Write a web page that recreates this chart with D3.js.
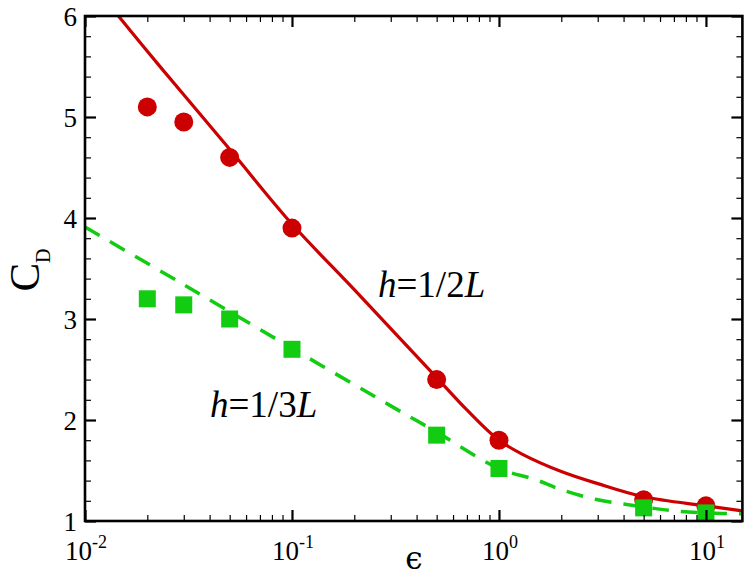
<!DOCTYPE html>
<html>
<head>
<meta charset="utf-8">
<script src="https://cdn.jsdelivr.net/npm/d3@7"></script>
<style>
  html, body { margin: 0; padding: 0; background: #fff; }
  svg { display: block; }
</style>
</head>
<body>
<svg id="chart" width="750" height="578"></svg>
<script>
// ---- data ----
const epsPoints = [0.02, 0.03, 0.05, 0.1, 0.5, 1, 5, 10];
const cdHalf = [5.1, 4.95, 4.6, 3.9, 2.4, 1.8, 1.21, 1.15];
const cdThird = [3.2, 3.14, 3.0, 2.7, 1.85, 1.52, 1.13, 1.08];

const curveHalfX = [0.013, 0.02, 0.03, 0.05, 0.1, 0.2, 0.5, 0.7, 1.0, 1.3, 2, 3, 5, 10, 15];
const curveHalfY = [6.12, 5.65, 5.22, 4.68, 3.94, 3.29, 2.42, 2.10, 1.80, 1.66, 1.49, 1.37, 1.24, 1.15, 1.10];

const curveThirdX = [0.01, 0.03, 0.1, 0.3, 0.5, 1.0, 1.5, 2, 3, 5, 7, 10, 15];
const curveThirdY = [3.91, 3.34, 2.71, 2.14, 1.88, 1.52, 1.41, 1.31, 1.21, 1.14, 1.10, 1.08, 1.07];

const xMajor = [0.01, 0.1, 1, 10];
const xMajorExp = ["-2", "-1", "0", "1"];
const yMajor = [1, 2, 3, 4, 5, 6];

const colRed = "#cc0000";
const colGreen = "#11cc11";

// ---- layout ----
const L = 85, R = 742.4, T = 16, B = 521;
const svg = d3.select("#chart");
const x = d3.scaleLog().domain([0.01, 15]).range([L, R]);
const y = d3.scaleLinear().domain([1, 6]).range([B, T]);

// minor ticks
const xMinor = [];
for (let e = -2; e <= 1; e++) {
  for (let m = 2; m <= 9; m++) {
    const v = m * Math.pow(10, e);
    if (v <= 15) xMinor.push(v);
  }
}
const yMinor = d3.range(1, 6.001, 0.2).filter(v => Math.abs(v - Math.round(v)) > 1e-6);

// clip
svg.append("defs").append("clipPath").attr("id", "clip")
  .append("rect").attr("x", L).attr("y", T).attr("width", R - L).attr("height", B - T);

const gPlot = svg.append("g").attr("clip-path", "url(#clip)");

const line = d3.line().x(d => x(d[0])).y(d => y(d[1])).curve(d3.curveCatmullRom.alpha(0.5));

gPlot.append("path")
  .datum(curveHalfX.map((v, i) => [v, curveHalfY[i]]))
  .attr("d", line).attr("fill", "none").attr("stroke", colRed).attr("stroke-width", 3.2);

// red circles
svg.append("g").selectAll("circle").data(epsPoints.map((v, i) => [v, cdHalf[i]])).join("circle")
  .attr("cx", d => x(d[0])).attr("cy", d => y(d[1])).attr("r", 9.5).attr("fill", colRed);

gPlot.append("path")
  .datum(curveThirdX.map((v, i) => [v, curveThirdY[i]]))
  .attr("d", line).attr("fill", "none").attr("stroke", colGreen).attr("stroke-width", 3.5)
  .attr("stroke-dasharray", "17,12");

// green squares
const sq = 17;
svg.append("g").selectAll("rect").data(epsPoints.map((v, i) => [v, cdThird[i]])).join("rect")
  .attr("x", d => x(d[0]) - sq / 2).attr("y", d => y(d[1]) - sq / 2)
  .attr("width", sq).attr("height", sq).attr("fill", colGreen);

// axes ticks (inward, all four sides)
function tickAxis(gen, tx, ty, values, size, width) {
  const g = svg.append("g").attr("transform", `translate(${tx},${ty})`)
    .call(gen.tickValues(values).tickSize(size).tickFormat(""));
  g.select(".domain").remove();
  g.selectAll(".tick line").attr("stroke", "#000").attr("stroke-width", width);
}
tickAxis(d3.axisBottom(x), 0, B, xMajor, -11, 2.2);
tickAxis(d3.axisBottom(x), 0, B, xMinor, -6, 1.2);
tickAxis(d3.axisTop(x), 0, T, xMajor, -11, 2.2);
tickAxis(d3.axisTop(x), 0, T, xMinor, -6, 1.2);
tickAxis(d3.axisLeft(y), L, 0, yMajor, -11, 2.2);
tickAxis(d3.axisLeft(y), L, 0, yMinor, -6, 1.2);
tickAxis(d3.axisRight(y), R, 0, yMajor, -11, 2.2);
tickAxis(d3.axisRight(y), R, 0, yMinor, -6, 1.2);

// frame
svg.append("rect").attr("x", L).attr("y", T).attr("width", R - L).attr("height", B - T)
  .attr("fill", "none").attr("stroke", "#000").attr("stroke-width", 2.6);

const serif = "'Liberation Serif', 'Times New Roman', Times, serif";

// y tick labels
svg.append("g").selectAll("text").data(yMajor).join("text")
  .attr("x", L - 8).attr("y", d => y(d) + 10)
  .attr("text-anchor", "end").attr("font-family", serif).attr("font-size", 27)
  .text(d => d);

// x tick labels
const xl = svg.append("g").selectAll("text").data(xMajor).join("text")
  .attr("x", d => x(d) + 1).attr("y", 560)
  .attr("text-anchor", "middle").attr("font-family", serif).attr("font-size", 27);
xl.append("tspan").text("10");
xl.append("tspan").attr("dy", -12).attr("font-size", 18).text((d, i) => xMajorExp[i]);

// axis titles
const yt = svg.append("text").attr("transform", "translate(39,270) rotate(-90)")
  .attr("text-anchor", "middle").attr("font-family", serif).attr("font-size", 43);
yt.append("tspan").text("C");
yt.append("tspan").attr("dy", 11).attr("font-size", 20).text("D");

svg.append("text").attr("x", 414).attr("y", 569).attr("text-anchor", "middle")
  .attr("font-family", "'DejaVu Serif', serif").attr("font-size", 31).text("ϵ");

// annotations
function annot(tx, ty, digit) {
  const t = svg.append("text").attr("x", tx).attr("y", ty)
    .attr("font-family", serif).attr("font-size", 37);
  t.append("tspan").attr("font-style", "italic").text("h");
  t.append("tspan").text("=1/" + digit);
  t.append("tspan").attr("font-style", "italic").text("L");
}
annot(378, 297, "2");
annot(210, 417, "3");
</script>
</body>
</html>
